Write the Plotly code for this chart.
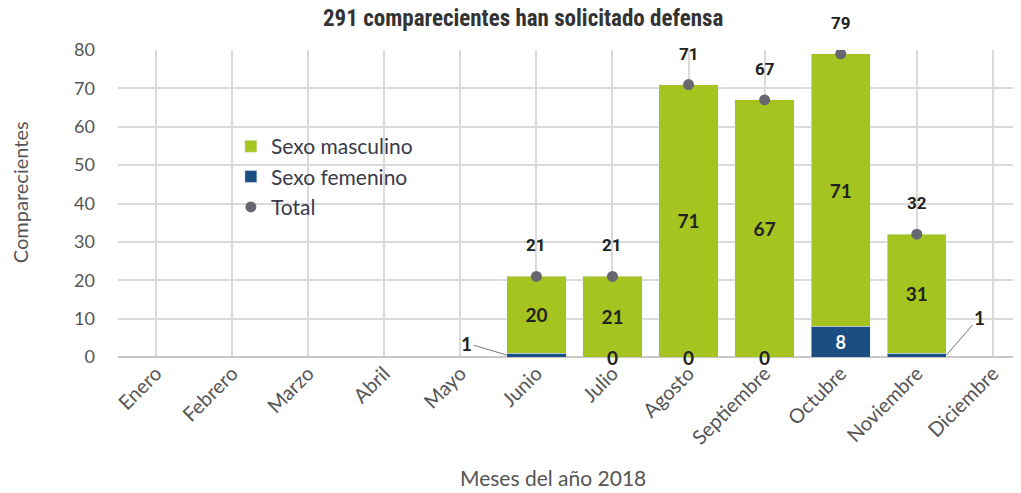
import plotly.graph_objects as go

months = ["Enero", "Febrero", "Marzo", "Abril", "Mayo", "Junio", "Julio",
          "Agosto", "Septiembre", "Octubre", "Noviembre", "Diciembre"]
masculino = [0, 0, 0, 0, 0, 20, 21, 71, 67, 71, 31, 0]
femenino = [0, 0, 0, 0, 0, 1, 0, 0, 0, 8, 1, 0]
total = [0, 0, 0, 0, 0, 21, 21, 71, 67, 79, 32, 0]
y_ticks = [0, 10, 20, 30, 40, 50, 60, 70, 80]

GREEN = "#a6c41f"
BLUE = "#1b4f84"
GRAY_DOT = "#66676f"
GRID = "#dadada"
TXT = "#555555"
DARK = "#222222"
BAR_W = 0.78

idx = list(range(len(months)))

fig = go.Figure()

fig.add_trace(go.Bar(
    name="Sexo femenino", x=idx, y=femenino, marker_color=BLUE, width=BAR_W,
    text=[str(v) if v >= 5 else "" for v in femenino],
    textposition="inside", insidetextanchor="middle", textangle=0,
    textfont=dict(family="Lato", size=18, color="white", weight="bold"),
    legendrank=2,
))
fig.add_trace(go.Bar(
    name="Sexo masculino", x=idx, y=masculino, marker_color=GREEN, width=BAR_W,
    text=[str(v) if v > 0 else "" for v in masculino],
    textposition="inside", insidetextanchor="middle", textangle=0,
    textfont=dict(family="Lato", size=19, color=DARK, weight="bold"),
    legendrank=1,
))
tot_x = [i for i in idx if total[i] > 0]
tot_y = [total[i] for i in idx if total[i] > 0]
fig.add_trace(go.Scatter(
    name="Total", x=tot_x, y=tot_y, mode="markers",
    marker=dict(color=GRAY_DOT, size=11, symbol="circle"),
    legendrank=3,
))

annotations = []
# total labels
for xi, yi in zip(tot_x, tot_y):
    annotations.append(dict(
        x=xi, y=yi, text=str(yi), showarrow=False, yanchor="bottom", yshift=19,
        font=dict(family="Roboto", size=17, color=DARK, weight="bold"),
    ))
# femenino small labels
for i in idx:
    if total[i] == 0:
        continue
    v = femenino[i]
    if v == 0:
        annotations.append(dict(
            x=i, y=0, text="0", showarrow=False, yanchor="middle",
            font=dict(family="Lato", size=19, color=DARK, weight="bold"),
        ))
    elif v < 5:
        left = i < 8
        annotations.append(dict(
            x=i - BAR_W / 2 if left else i + BAR_W / 2, y=v / 2,
            text=str(v), showarrow=True, arrowhead=0, arrowwidth=1,
            arrowcolor="#777777", ax=-40 if left else 33, ay=-12 if left else -38,
            font=dict(family="Lato", size=19, color=DARK, weight="bold"),
        ))

# chart title
annotations.append(dict(
    xref="paper", yref="paper", x=0.449, y=1.104, xanchor="center", yanchor="middle",
    text="<b>291 comparecientes han solicitado defensa</b>", showarrow=False,
    font=dict(family="Roboto Condensed, Roboto", size=23, color="#333333"),
))
annotations.append(dict(
    xref="paper", yref="paper", x=0.4817, y=-0.391, xanchor="center", yanchor="middle",
    text="Meses del año 2018",
    showarrow=False, font=dict(family="Lato", size=21, color=TXT),
))
annotations.append(dict(
    xref="paper", yref="paper", x=-0.1085, y=0.537, xanchor="center", yanchor="middle",
    text="Comparecientes",
    textangle=-90, showarrow=False, font=dict(family="Lato", size=20, color=TXT),
))

fig.update_layout(
    width=1013, height=485,
    margin=dict(l=110, r=0, t=42, b=136),
    paper_bgcolor="white", plot_bgcolor="white",
    barmode="stack",
    showlegend=True,
    legend=dict(
        x=0.125, y=0.752, xanchor="left", yanchor="top",
        bgcolor="rgba(255,255,255,0)",
        font=dict(family="Lato", size=21, color="#3a3a4a"),
        traceorder="normal", itemwidth=30, tracegroupgap=0,
    ),
    annotations=annotations,
    shapes=[dict(
        type="rect", xref="paper", yref="paper",
        x0=0.0687, x1=0.4197, y0=0.4137, y1=0.739,
        fillcolor="white", line=dict(width=0), layer="between",
    )],
    xaxis=dict(
        range=[-0.5, 11.37], tickmode="array", tickvals=idx, ticktext=months,
        tickangle=-45, tickson="boundaries", showgrid=True, gridcolor=GRID,
        gridwidth=2, ticks="", automargin=False,
        tickfont=dict(family="Lato", size=20, color=TXT),
        showline=False, zeroline=False,
    ),
    yaxis=dict(
        range=[0, 80], tickvals=y_ticks, showgrid=True, gridcolor=GRID,
        gridwidth=2, zeroline=True, zerolinecolor="#c8c8c8", zerolinewidth=2,
        ticklabelstandoff=22, automargin=False,
        tickfont=dict(family="Lato", size=18, color=TXT),
    ),
)

fig.write_html("out.html")
